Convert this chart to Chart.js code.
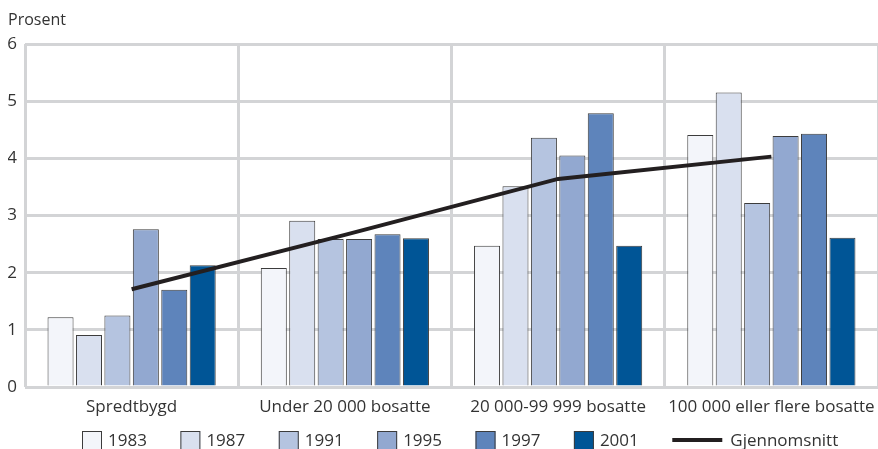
<!DOCTYPE html>
<html>
<head>
<meta charset="utf-8">
<script src="https://cdn.jsdelivr.net/npm/chart.js@4.4.0/dist/chart.umd.min.js"></script>
<style>
  html, body { margin: 0; padding: 0; background: #fff; }
  #wrap { width: 878px; height: 449px; }
</style>
</head>
<body>
<div id="wrap"><canvas id="chart" width="878" height="449"></canvas></div>
<script>
// data
const categories = ['Spredtbygd', 'Under 20 000 bosatte', '20 000-99 999 bosatte', '100 000 eller flere bosatte'];
const years = ['1983', '1987', '1991', '1995', '1997', '2001'];
const values1983 = [1.22, 2.08, 2.47, 4.41];
const values1987 = [0.91, 2.91, 3.51, 5.15];
const values1991 = [1.25, 2.59, 4.36, 3.22];
const values1995 = [2.76, 2.59, 4.05, 4.39];
const values1997 = [1.70, 2.67, 4.79, 4.43];
const values2001 = [2.13, 2.60, 2.47, 2.61];
const average = [1.71, 2.66, 3.64, 4.03];
const averageLabel = 'Gjennomsnitt';
const yTicks = [0, 1, 2, 3, 4, 5, 6];

const barColors = ['#f3f5fa', '#d9e0ef', '#b5c4e0', '#92a8d0', '#5e84bb', '#005596'];
const barSeries = [values1983, values1987, values1991, values1995, values1997, values2001];

const FONT = '"Open Sans", "Noto Sans", sans-serif';
const TEXT = '#333333';
const GRID = '#d3d4d6';

let datasets = barSeries.map((vals, i) => ({
  type: 'bar',
  label: years[i],
  data: vals,
  backgroundColor: barColors[i],
  borderColor: '#3c3c3c',
  borderWidth: 1,
  categoryPercentage: 0.8,
  barPercentage: 0.915,
  order: 1
}));

datasets.push({
  type: 'line',
  label: averageLabel,
  data: average,
  borderColor: '#231f20',
  borderWidth: 4,
  pointRadius: 0,
  fill: false,
  tension: 0,
  order: 0
});

// legend drawn by hand: boxes for bars, a short stroke for the line
const legendPlugin = {
  id: 'bottomLegend',
  afterDraw(chart) {
    const ctx = chart.ctx;
    ctx.save();
    ctx.font = '17px ' + FONT;
    ctx.textBaseline = 'middle';
    ctx.textAlign = 'left';
    let x = 82;
    const midY = 441;
    chart.data.datasets.forEach(ds => {
      if (ds.type === 'bar') {
        ctx.fillStyle = ds.backgroundColor;
        ctx.fillRect(x, midY - 10, 20, 20);
        ctx.strokeStyle = '#3c3c3c';
        ctx.lineWidth = 1;
        ctx.strokeRect(x + 0.5, midY - 9.5, 19, 19);
        x += 26;
      } else {
        ctx.strokeStyle = ds.borderColor;
        ctx.lineWidth = 4;
        ctx.beginPath();
        ctx.moveTo(x, midY - 1);
        ctx.lineTo(x + 50, midY - 1);
        ctx.stroke();
        x += 58;
      }
      ctx.fillStyle = TEXT;
      ctx.fillText(ds.label, x, midY);
      x += ctx.measureText(ds.label).width + 33.5;
    });
    ctx.restore();
  }
};

const ctx = document.getElementById('chart').getContext('2d');
const chart = new Chart(ctx, {
  data: {
    labels: categories,
    datasets: datasets
  },
  options: {
    responsive: false,
    animation: false,
    layout: { padding: { left: 8, right: 0, top: 0, bottom: 30 } },
    plugins: {
      legend: { display: false },
      tooltip: { enabled: false },
      title: {
        display: true,
        text: 'Prosent',
        align: 'start',
        color: TEXT,
        font: { family: FONT, size: 16, weight: 'normal', lineHeight: 1.2 },
        padding: { top: 10.8, bottom: 14 }
      }
    },
    scales: {
      x: {
        grid: { color: GRID, lineWidth: 3, drawTicks: false, offset: true },
        border: { display: false },
        ticks: {
          color: TEXT,
          padding: 10,
          maxRotation: 0,
          autoSkip: false,
          font: { family: FONT, size: 17 }
        },
        afterFit(scale) {
          scale.height = 32;
          scale.paddingLeft = 0;
          scale.paddingRight = 0;
        }
      },
      y: {
        min: 0,
        max: 6,
        grid: { color: GRID, lineWidth: 3, drawTicks: false },
        border: { display: false },
        afterBuildTicks(scale) { scale.ticks = yTicks.map(v => ({ value: v })); },
        ticks: {
          color: TEXT,
          padding: 8,
          font: { family: FONT, size: 17 }
        },
        afterFit(scale) {
          scale.width = 17;
          scale.paddingTop = 0;
          scale.paddingBottom = 0;
        }
      }
    }
  },
  plugins: [legendPlugin]
});
</script>
</body>
</html>
